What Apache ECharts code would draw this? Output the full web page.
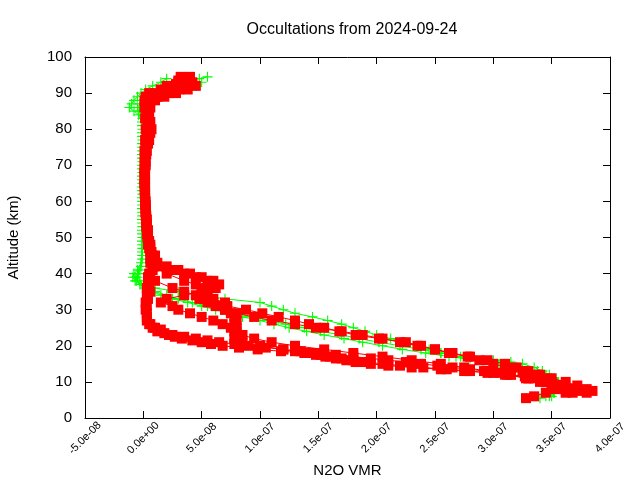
<!DOCTYPE html>
<html>
<head>
<meta charset="utf-8">
<script src="https://cdn.jsdelivr.net/npm/echarts@6/dist/echarts.min.js"></script>
<style>html,body{margin:0;padding:0;background:#fff}#c{width:640px;height:480px}</style>
</head>
<body>
<div id="c"></div>
<script>
// Chart text
const titleText = 'Occultations from 2024-09-24';
const xName = 'N2O VMR';
const yName = 'Altitude (km)';
const xTicks = [-5e-8, 0, 5e-8, 1e-7, 1.5e-7, 2e-7, 2.5e-7, 3e-7, 3.5e-7, 4e-7];
const yTicks = [0, 10, 20, 30, 40, 50, 60, 70, 80, 90, 100];

// Green profiles: [N2O VMR, altitude km]
const greenA = [[5.5e-8,94.5],[4.8e-8,94],[4.2e-8,93.5],[3.5e-8,93],[2.8e-8,92.5],[2.2e-8,92],[1.5e-8,91],[0.8e-8,90],[0.3e-8,89],[0,88],[-0.3e-8,87],[-0.5e-8,86],[-0.3e-8,85],[-0.1e-8,84],[-0.1e-8,81],[-0.1e-8,78],[-0.1e-8,75],[-0.1e-8,72],[-0.1e-8,69],[-0.1e-8,66],[-0.1e-8,63],[-0.1e-8,60],[-0.1e-8,57],[-0.1e-8,54],[-0.1e-8,51],[-0.1e-8,48],[-0.1e-8,45],[-0.2e-8,42],[-0.5e-8,40],[-0.7e-8,39],[-0.6e-8,38],[-0.2e-8,37],[1.0e-8,36],[3.0e-8,35],[5.0e-8,34],[7.0e-8,33],[10.0e-8,32],[11.0e-8,31],[12.0e-8,30],[13.0e-8,29],[14.5e-8,28],[15.8e-8,27],[17.0e-8,26],[18.0e-8,25],[19.0e-8,24],[20.0e-8,23],[21.2e-8,22],[22.5e-8,21],[23.5e-8,20],[24.5e-8,19],[25.5e-8,18],[26.8e-8,17],[28.0e-8,16.5],[30.0e-8,16],[31.5e-8,15.5],[32.5e-8,15],[33.5e-8,14],[34.2e-8,13],[34.8e-8,12],[35.2e-8,11],[35.6e-8,10],[35.8e-8,9],[35.6e-8,8],[35.2e-8,7],[34.5e-8,6],[34.0e-8,5.5]];
const greenB = [[2.0e-8,94],[1.5e-8,93],[0.8e-8,92],[0.2e-8,91],[-0.2e-8,90],[-0.5e-8,89],[-0.8e-8,88],[-1.0e-8,87],[-1.2e-8,86],[-0.8e-8,85],[-0.4e-8,84],[-0.12e-8,82],[-0.12e-8,79],[-0.12e-8,76],[-0.12e-8,73],[-0.12e-8,70],[-0.12e-8,67],[-0.12e-8,64],[-0.12e-8,61],[-0.12e-8,58],[-0.12e-8,55],[-0.12e-8,52],[-0.12e-8,49],[-0.12e-8,46],[-0.2e-8,43],[-0.5e-8,41],[-0.8e-8,40],[-0.9e-8,39],[-0.7e-8,38],[-0.3e-8,37],[0.2e-8,36],[0.8e-8,35],[1.5e-8,34],[2.5e-8,33],[3.8e-8,32],[5.0e-8,31],[6.2e-8,30],[7.2e-8,29],[8.5e-8,28],[10.0e-8,27],[11.2e-8,26],[12.5e-8,25],[14.0e-8,24],[15.5e-8,23],[17.2e-8,22],[18.8e-8,21],[20.5e-8,20],[22.2e-8,19],[24.2e-8,18],[26.2e-8,17],[28.5e-8,16],[30.0e-8,15.5],[31.0e-8,15],[32.5e-8,14],[33.8e-8,13],[34.5e-8,12],[35.0e-8,11],[35.5e-8,10],[35.5e-8,9],[35.4e-8,8],[35.2e-8,7],[35.0e-8,6]];
const greenC = [[5.0e-8,93],[4.5e-8,92],[3.5e-8,91],[2.5e-8,90],[1.5e-8,89],[0.8e-8,88],[0.3e-8,87],[0,86],[-0.1e-8,85],[-0.08e-8,83],[-0.08e-8,80],[-0.08e-8,77],[-0.08e-8,74],[-0.08e-8,71],[-0.08e-8,68],[-0.08e-8,65],[-0.08e-8,62],[-0.08e-8,59],[-0.08e-8,56],[-0.08e-8,53],[-0.08e-8,50],[-0.08e-8,47],[-0.1e-8,44],[-0.3e-8,41],[-0.4e-8,40],[-0.5e-8,39],[-0.3e-8,38],[0,37],[0.5e-8,36],[1.0e-8,35],[2.0e-8,34],[3.0e-8,33],[4.2e-8,32],[5.5e-8,31],[6.8e-8,30],[8.0e-8,29],[9.2e-8,28],[10.8e-8,27],[12.2e-8,26],[13.8e-8,25],[15.2e-8,24],[17.0e-8,23],[18.5e-8,22],[20.2e-8,21],[22.0e-8,20],[23.8e-8,19],[25.5e-8,18],[27.2e-8,17],[29.0e-8,16],[30.5e-8,15],[32.0e-8,14],[33.2e-8,13],[34.2e-8,12],[35.0e-8,11],[35.5e-8,10],[35.6e-8,9],[35.5e-8,8],[35.2e-8,7],[34.8e-8,6]];

// Red profiles: [N2O VMR, altitude km]
const redA = [[4.0e-8,94.5],[3.8e-8,94],[4.2e-8,93],[4.5e-8,92],[3.8e-8,91],[2.8e-8,90],[1.8e-8,89],[1.0e-8,88],[0.6e-8,86],[0.5e-8,84],[0.4e-8,81],[0.3e-8,78],[0.2e-8,75],[0.15e-8,72],[0.15e-8,69],[0.15e-8,66],[0.15e-8,63],[0.2e-8,60],[0.2e-8,57],[0.25e-8,54],[0.3e-8,51],[0.4e-8,48],[0.6e-8,46],[0.8e-8,44],[0.9e-8,42],[0.6e-8,40],[0.4e-8,38],[0.3e-8,36],[0.3e-8,34],[0.2e-8,32],[0.2e-8,30],[0.3e-8,28],[0.6e-8,26],[1.0e-8,25],[1.5e-8,24.5],[2.2e-8,23],[2.7e-8,22.5],[3.3e-8,22],[4.2e-8,21.5],[5.0e-8,21],[5.8e-8,20.5],[6.8e-8,20],[8.2e-8,19.5],[9.8e-8,19],[11.8e-8,18.5],[13.8e-8,18],[14.8e-8,17.5],[15.6e-8,17],[16.5e-8,16.5],[17.4e-8,16],[18.2e-8,15.5],[19.5e-8,15],[21.0e-8,14.5],[23.0e-8,14],[25.5e-8,13.5],[27.5e-8,13],[30.0e-8,12.5],[31.5e-8,12],[32.7e-8,11.5],[33.5e-8,11],[34.2e-8,10.5],[34.8e-8,10],[36.0e-8,9],[37.0e-8,8],[38.0e-8,7]];
const redB = [[3.2e-8,94.5],[3.0e-8,93.5],[2.8e-8,92.5],[2.2e-8,91.5],[1.5e-8,90.5],[0.8e-8,89.5],[0.3e-8,88.5],[0.2e-8,87.5],[0.2e-8,86],[0.3e-8,84],[0.6e-8,82],[0.7e-8,80],[0.5e-8,77],[0.3e-8,74],[0.2e-8,71],[0.1e-8,68],[0.1e-8,65],[0.15e-8,62],[0.2e-8,59],[0.25e-8,56],[0.3e-8,53],[0.4e-8,50],[0.6e-8,47],[1.0e-8,45],[1.2e-8,43],[0.8e-8,41],[0.4e-8,39],[0.5e-8,37],[0.6e-8,35],[0.4e-8,33],[0.3e-8,31],[0.3e-8,29],[0.3e-8,27],[0.5e-8,26],[0.8e-8,25],[1.2e-8,24],[1.8e-8,23.5],[2.5e-8,23],[3.5e-8,22.5],[4.5e-8,22],[5.5e-8,21.5],[6.5e-8,21],[7.8e-8,20.5],[9.0e-8,20],[10.5e-8,19.5],[12.0e-8,19],[13.0e-8,18.5],[14.2e-8,18],[15.2e-8,17.5],[16.0e-8,17],[17.0e-8,16.5],[18.0e-8,16],[19.0e-8,15.5],[20.5e-8,15],[22.0e-8,14.5],[24.0e-8,14],[26.0e-8,13.5],[28.0e-8,13],[29.5e-8,12.5],[31.0e-8,12],[33.0e-8,11],[34.5e-8,10],[35.8e-8,9],[36.8e-8,8],[37.5e-8,7.5]];
const redC = [[3.0e-8,93],[3.5e-8,92],[3.0e-8,91],[2.2e-8,90],[1.2e-8,89],[0.5e-8,88],[0.3e-8,87],[0.3e-8,85],[0.5e-8,82],[0.6e-8,79],[0.4e-8,76],[0.25e-8,73],[0.2e-8,70],[0.15e-8,67],[0.15e-8,64],[0.15e-8,61],[0.2e-8,58],[0.3e-8,55],[0.4e-8,52],[0.5e-8,49],[0.7e-8,46],[0.6e-8,43],[0.5e-8,40],[1.0e-8,38],[2.5e-8,36],[3.5e-8,35],[4.5e-8,34],[5.2e-8,33],[6.0e-8,32],[7.2e-8,31],[8.8e-8,30],[10.2e-8,29],[11.6e-8,28],[13.0e-8,27],[14.2e-8,26],[15.5e-8,25],[16.8e-8,24],[18.2e-8,23],[20.2e-8,22],[22.5e-8,21],[23.8e-8,20],[25.0e-8,19],[26.2e-8,18],[27.8e-8,17],[28.8e-8,16],[30.0e-8,15],[31.2e-8,14],[32.5e-8,13],[33.8e-8,12],[35.0e-8,11],[36.2e-8,10],[37.2e-8,9],[38.0e-8,8],[38.5e-8,7.5]];
const redD = [[2.0e-8,92],[1.5e-8,91],[1.0e-8,90],[0.5e-8,89],[0.3e-8,88],[0.3e-8,85],[0.4e-8,82],[0.4e-8,79],[0.3e-8,76],[0.2e-8,73],[0.15e-8,70],[0.12e-8,67],[0.12e-8,64],[0.15e-8,61],[0.2e-8,58],[0.25e-8,55],[0.35e-8,52],[0.45e-8,49],[0.6e-8,46],[0.8e-8,44],[0.8e-8,43],[1.2e-8,42],[2.5e-8,41],[3.5e-8,40],[4.5e-8,39],[5.5e-8,38],[5.8e-8,37],[6.0e-8,36],[5.5e-8,35],[5.0e-8,34],[4.8e-8,33],[5.5e-8,32],[6.2e-8,31],[7.0e-8,30],[7.5e-8,29],[7.8e-8,28],[8.0e-8,27],[7.8e-8,26],[8.0e-8,25],[7.8e-8,24],[8.0e-8,23],[7.8e-8,22],[8.5e-8,21],[10.0e-8,20],[12.0e-8,19],[13.5e-8,18.5],[15.0e-8,18],[16.5e-8,17.5],[18.0e-8,17],[19.5e-8,16.5],[21.0e-8,16],[22.5e-8,15.5],[23.8e-8,15],[25.2e-8,14.5],[26.5e-8,14],[28.0e-8,13.5],[29.2e-8,13],[30.5e-8,12.5],[31.5e-8,12],[33.0e-8,11],[34.5e-8,10],[35.5e-8,9],[36.2e-8,8],[36.8e-8,7]];
const redE = [[0.5e-8,90],[0.2e-8,89],[0.1e-8,88],[0.1e-8,86],[0.15e-8,83],[0.2e-8,80],[0.15e-8,77],[0.1e-8,74],[0.1e-8,71],[0.1e-8,68],[0.1e-8,65],[0.12e-8,62],[0.15e-8,59],[0.2e-8,56],[0.25e-8,53],[0.35e-8,50],[0.5e-8,47],[0.6e-8,44],[0.8e-8,42],[2.0e-8,40],[3.5e-8,38],[4.5e-8,37],[5.0e-8,36],[5.2e-8,35],[5.5e-8,34],[6.0e-8,33],[7.0e-8,32],[6.5e-8,31],[7.0e-8,30],[8.0e-8,29],[9.5e-8,28],[11.0e-8,27],[13.0e-8,26],[14.8e-8,25],[17.0e-8,24],[18.8e-8,23],[20.5e-8,22],[22.0e-8,21],[23.5e-8,20],[25.0e-8,19],[26.5e-8,18],[28.0e-8,17],[29.5e-8,16],[31.0e-8,15],[32.0e-8,14],[33.0e-8,13],[34.0e-8,12],[34.5e-8,11],[35.0e-8,10],[35.2e-8,9],[35.0e-8,8],[34.5e-8,7],[33.5e-8,6],[32.8e-8,5.5]];
const redF = [[0.8e-8,89],[0.6e-8,88],[0.3e-8,87],[0.3e-8,84],[0.35e-8,81],[0.3e-8,78],[0.2e-8,75],[0.12e-8,72],[0.1e-8,69],[0.1e-8,66],[0.12e-8,63],[0.15e-8,60],[0.2e-8,57],[0.3e-8,54],[0.4e-8,51],[0.6e-8,48],[0.8e-8,45],[0.9e-8,44],[1.0e-8,43],[2.0e-8,42],[3.0e-8,41],[4.0e-8,40],[5.0e-8,39],[6.0e-8,38],[6.5e-8,37],[6.2e-8,36],[5.0e-8,35],[3.5e-8,34],[2.0e-8,33],[1.5e-8,32],[2.5e-8,31],[3.0e-8,30],[4.0e-8,29],[5.0e-8,28],[6.0e-8,27],[6.8e-8,26],[7.5e-8,25],[8.0e-8,24],[8.5e-8,23],[9.5e-8,22],[11.0e-8,21],[13.0e-8,20],[15.5e-8,19],[18.0e-8,18],[20.5e-8,17],[23.0e-8,16],[25.5e-8,15],[27.5e-8,14],[29.5e-8,13],[31.2e-8,12],[32.8e-8,11],[34.0e-8,10],[35.0e-8,9],[35.8e-8,8],[36.2e-8,7]];

const greenProfiles = [greenA, greenB, greenC];
const redProfiles = [redA, redB, redC, redD, redE, redF];

const FONT = '"Liberation Sans", Arial, sans-serif';
const PLUS = 'path://M4,0H5V4H9V5H5V9H4V5H0V4H4Z';

function fmtExp(v) {
  if (Math.abs(v) < 1e-20) v = 0;
  const s = v.toExponential(1);
  const parts = s.split('e');
  const sign = parts[1][0];
  const digits = parts[1].slice(1).padStart(2, '0');
  return parts[0] + 'e' + sign + digits;
}

const series = [];
greenProfiles.forEach(p => series.push({
  type: 'line', data: p, z: 2, symbol: PLUS, symbolSize: 10, showSymbol: true, showAllSymbol: true,
  itemStyle: { color: '#00ff00' }, lineStyle: { color: '#00ff00', width: 1 },
  silent: true, animation: false, xAxisIndex: 0, yAxisIndex: 0
}));
redProfiles.forEach(p => series.push({
  type: 'line', data: p, z: 3, symbol: 'rect', symbolSize: 10, showSymbol: true, showAllSymbol: true,
  itemStyle: { color: '#ff0000' }, lineStyle: { color: '#ff0000', width: 1 },
  silent: true, animation: false, xAxisIndex: 0, yAxisIndex: 0
}));

const axisLine = { show: true, onZero: false, lineStyle: { color: '#000', width: 1 } };
const tick = { show: true, inside: true, length: 7, lineStyle: { color: '#000' } };
const xMin = xTicks[0], xMax = xTicks[xTicks.length - 1];
const yMin = yTicks[0], yMax = yTicks[yTicks.length - 1], yInt = yTicks[1] - yTicks[0];

const chart = echarts.init(document.getElementById('c'), null, { renderer: 'canvas' });
chart.setOption({
  animation: false,
  backgroundColor: '#fff',
  title: { text: titleText, left: 347, top: 17, textAlign: 'center',
    textStyle: { fontSize: 16, fontWeight: 'normal', color: '#000', fontFamily: FONT } },
  grid: { left: 85, right: 30, top: 57, bottom: 62, containLabel: false, outerBoundsMode: 'none' },
  xAxis: [
    { type: 'value', position: 'bottom', min: xMin, max: xMax, interval: 5e-8,
      name: xName, nameLocation: 'middle', nameGap: 38,
      nameTextStyle: { fontSize: 15, color: '#000', fontFamily: FONT },
      axisLine: axisLine, axisTick: tick, splitLine: { show: false },
      axisLabel: { rotate: 45, fontSize: 11, color: '#000', fontFamily: FONT, margin: 20,
        align: 'center', verticalAlign: 'middle', formatter: fmtExp, hideOverlap: false } },
    { type: 'value', position: 'top', min: xMin, max: xMax, interval: 5e-8,
      axisLine: axisLine, axisTick: tick, splitLine: { show: false }, axisLabel: { show: false } }
  ],
  yAxis: [
    { type: 'value', position: 'left', min: yMin, max: yMax, interval: yInt,
      name: yName, nameLocation: 'middle', nameGap: 64, nameRotate: 90,
      nameTextStyle: { fontSize: 15, color: '#000', fontFamily: FONT },
      axisLine: axisLine, axisTick: tick, splitLine: { show: false },
      axisLabel: { fontSize: 15, color: '#000', fontFamily: FONT, margin: 13 } },
    { type: 'value', position: 'right', min: yMin, max: yMax, interval: yInt,
      axisLine: axisLine, axisTick: tick, splitLine: { show: false }, axisLabel: { show: false } }
  ],
  series: series
});
</script>
</body>
</html>
